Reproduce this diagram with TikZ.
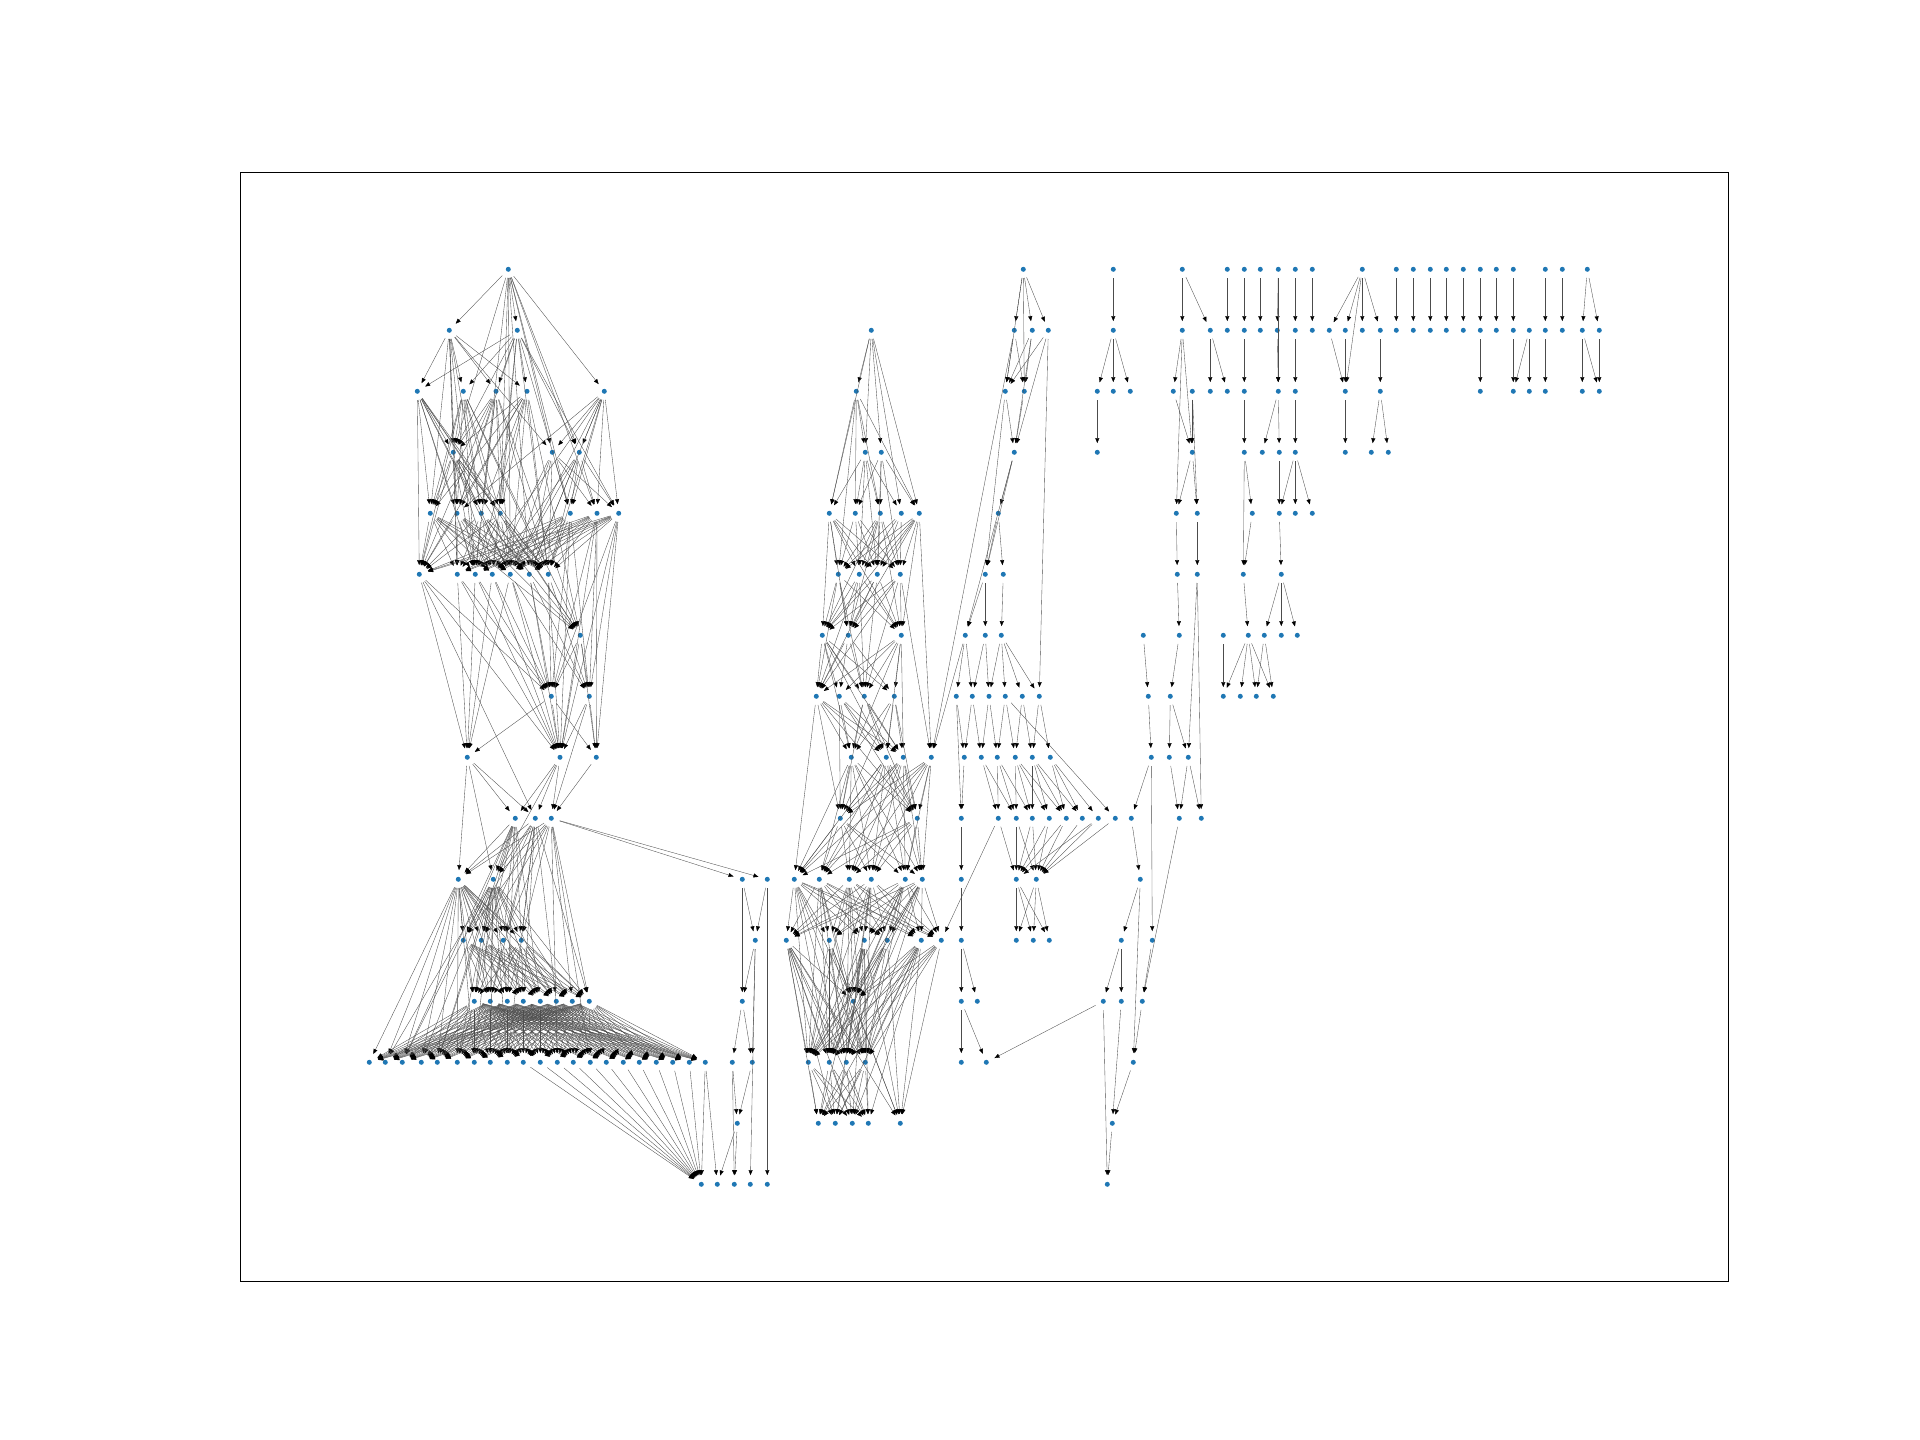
\documentclass[tikz,border=0pt]{standalone}
\usepackage{tikz}
\usetikzlibrary{arrows.meta}
\definecolor{nodeblue}{HTML}{1F77B4}

\begin{document}
\begin{tikzpicture}[x=1pt, y=-1pt,
    dot/.style={circle, fill=nodeblue, inner sep=0pt, minimum size=5pt},
    link/.style={draw=black!70, line width=0.35pt, shorten <=6pt, shorten >=6.5pt,
        -{Triangle[length=5pt, width=4pt, color=black]}}]
    \useasboundingbox (0,0) rectangle (1920,1440);
    \draw[line width=0.8pt] (240,172.8) rectangle (1728,1281.6);

    % Nodes, one row per layer
    \foreach \x [count=\i] in {508.3, 1023.3, 1113.3, 1182.3, 1227.3, 1244.3, 1260.3, 1278.3, 1295.3, 1312.3, 1362.3, 1396.3, 1413.3, 1430.3, 1446.3, 1463.3, 1480.3, 1496.3, 1513.3, 1545.3, 1562.3, 1587.3}
        \node[dot] (L0-\i) at (\x,269.3) {};
    \foreach \x [count=\i] in {449.3, 517.3, 871.3, 1014.3, 1032.3, 1048.3, 1113.3, 1182.3, 1210.3, 1227.3, 1244.3, 1260.3, 1277.3, 1295.3, 1312.3, 1329.3, 1345.3, 1362.3, 1380.3, 1396.3, 1413.3, 1430.3, 1446.3, 1463.3, 1480.3, 1496.3, 1513.3, 1529.3, 1545.3, 1562.3, 1582.3, 1599.3}
        \node[dot] (L1-\i) at (\x,330.3) {};
    \foreach \x [count=\i] in {417.3, 463.3, 496, 527, 604.3, 856.3, 1005.3, 1024.3, 1097.3, 1113.3, 1130.3, 1173.3, 1192.3, 1210.3, 1227.3, 1244.3, 1278.3, 1295.3, 1345.3, 1380.3, 1480.3, 1513.3, 1529.3, 1545.3, 1582.3, 1599.3}
        \node[dot] (L2-\i) at (\x,391.3) {};
    \foreach \x [count=\i] in {453.3, 552.3, 579.3, 865.3, 881.3, 1014.3, 1097.3, 1192.3, 1244.3, 1262.3, 1279.3, 1295.3, 1345.3, 1371.3, 1388.3}
        \node[dot] (L3-\i) at (\x,452.3) {};
    \foreach \x [count=\i] in {430.3, 457, 481.3, 500.3, 570.3, 597, 618.7, 829.3, 855.3, 880.3, 901.3, 919.3, 998.3, 1176.3, 1197.3, 1252.3, 1279.3, 1295.3, 1312.3}
        \node[dot] (L4-\i) at (\x,513.3) {};
    \foreach \x [count=\i] in {419.3, 457.3, 475.3, 492.3, 510.3, 529.3, 548.3, 838.3, 859.3, 877.3, 900.3, 985.3, 1003.3, 1177.3, 1197.3, 1243.3, 1281.3}
        \node[dot] (L5-\i) at (\x,574.3) {};
    \foreach \x [count=\i] in {580.3, 822.3, 848.3, 901.3, 965.3, 985.3, 1001.3, 1143.3, 1179.3, 1223.3, 1248.3, 1264.3, 1281.3, 1297.3}
        \node[dot] (L6-\i) at (\x,635.3) {};
    \foreach \x [count=\i] in {551.3, 589.3, 816.3, 839.3, 864.3, 894.3, 956.3, 972.3, 989, 1005.3, 1022.3, 1039.3, 1148.3, 1170.3, 1223.3, 1240.3, 1256.3, 1273.3}
        \node[dot] (L7-\i) at (\x,696.3) {};
    \foreach \x [count=\i] in {467.3, 560, 596.3, 851.3, 886.3, 903.3, 931.3, 964.3, 981.3, 997.3, 1015.3, 1032.3, 1050.3, 1151.3, 1169.3, 1188.3}
        \node[dot] (L8-\i) at (\x,757.3) {};
    \foreach \x [count=\i] in {515.3, 535.3, 551.3, 840.3, 917.3, 961.3, 998.3, 1016.3, 1032.3, 1049.3, 1066.3, 1082.3, 1098.3, 1115.3, 1131.3, 1179.3, 1201.3}
        \node[dot] (L9-\i) at (\x,818.3) {};
    \foreach \x [count=\i] in {458.3, 493.3, 742.3, 767.3, 794.3, 819.3, 849.3, 871.3, 905.3, 922.3, 961.3, 1016.3, 1036.3, 1140.3}
        \node[dot] (L10-\i) at (\x,879.3) {};
    \foreach \x [count=\i] in {463.3, 481.3, 503.3, 521.3, 755.3, 786.3, 829.3, 864.3, 887.3, 921.3, 941.3, 961.3, 1016.3, 1033.3, 1049.3, 1121.3, 1152.3}
        \node[dot] (L11-\i) at (\x,940.3) {};
    \foreach \x [count=\i] in {474.3, 490.3, 507.3, 523.3, 540.3, 556.3, 572.3, 589.3, 742.3, 853.3, 961.3, 977.3, 1103.3, 1121.3, 1142.3}
        \node[dot] (L12-\i) at (\x,1001.3) {};
    \foreach \x [count=\i] in {369.3, 385.3, 402.3, 421.3, 437.3, 457.3, 474.3, 490.3, 507.3, 523.3, 540.3, 557.3, 573.3, 590.3, 606.3, 623.3, 639.3, 656.3, 672.7, 689.3, 705.3, 732.3, 752.3, 808.3, 829.3, 846.3, 865.3, 961.3, 986.3, 1133.3}
        \node[dot] (L13-\i) at (\x,1062.3) {};
    \foreach \x [count=\i] in {737.3, 818.3, 835.3, 852.3, 868.3, 900.3, 1112.3}
        \node[dot] (L14-\i) at (\x,1123.3) {};
    \foreach \x [count=\i] in {701.3, 717.3, 734.3, 750.3, 767.3, 1107.3}
        \node[dot] (L15-\i) at (\x,1184.3) {};

    % Left block, upper part
    \foreach \a/\b in {0-1/1-1, 0-1/1-2, 0-1/2-5, 0-1/3-1, 0-1/3-2, 0-1/3-3, 0-1/4-3, 0-1/4-4, 0-1/4-5, 0-1/4-6, 0-1/5-5, 0-1/5-6,
            1-1/2-1, 1-1/2-2, 1-1/2-3, 1-1/2-4, 1-1/3-1, 1-1/3-2, 1-1/4-1, 1-1/4-2, 1-1/4-3, 1-1/5-2, 1-1/5-3,
            1-2/2-1, 1-2/2-2, 1-2/2-3, 1-2/2-4, 1-2/3-1, 1-2/3-3, 1-2/4-2, 1-2/4-4, 1-2/4-5, 1-2/4-7, 1-2/5-4, 1-2/5-7,
            2-5/3-2, 2-5/3-3, 2-5/4-2, 2-5/4-5, 2-5/4-6, 2-5/4-7, 2-5/5-3, 2-5/5-5, 2-5/5-6, 2-5/5-7,
            6-1/7-1, 6-1/7-2, 6-1/8-2, 6-1/8-3,
            7-1/8-1, 7-1/8-2, 7-1/8-3, 7-2/8-2, 7-2/8-3, 7-2/9-3,
            8-1/9-1, 8-1/9-2, 8-1/10-1, 8-1/10-2, 8-2/9-1, 8-2/9-2, 8-2/9-3, 8-2/10-2, 8-3/9-3,
            4-6/8-3, 4-7/8-3, 5-1/9-2, 5-1/8-1, 5-2/8-1, 9-3/10-3, 9-3/10-4}
        \draw[link] (L\a) -- (L\b);
    \foreach \s in {1,...,4} {
        \draw[link] (L2-\s) -- (L3-1);
        \draw[link] (L2-\s) -- (L6-1);
        \foreach \t in {1,...,4} \draw[link] (L2-\s) -- (L4-\t);
        \foreach \t in {1,3,5,7} \draw[link] (L2-\s) -- (L5-\t);
    }
    \foreach \t in {1,...,4} \draw[link] (L3-1) -- (L4-\t);
    \foreach \t in {1,...,7} \draw[link] (L3-1) -- (L5-\t);
    \foreach \s in {2,3} {
        \foreach \t in {5,6,7} \draw[link] (L3-\s) -- (L4-\t);
        \foreach \t in {4,...,7} \draw[link] (L3-\s) -- (L5-\t);
    }
    \foreach \s in {1,...,7} \foreach \t in {1,...,7} \draw[link] (L4-\s) -- (L5-\t);
    \foreach \s in {1,...,4} \draw[link] (L4-\s) -- (L6-1);
    \foreach \s in {5,6,7} {
        \draw[link] (L4-\s) -- (L7-1);
        \draw[link] (L4-\s) -- (L7-2);
        \draw[link] (L4-\s) -- (L8-2);
    }
    \foreach \s in {1,...,7} {
        \draw[link] (L5-\s) -- (L7-1);
        \draw[link] (L5-\s) -- (L8-2);
    }
    \foreach \s in {3,4,5} \draw[link] (L5-\s) -- (L8-1);
    \foreach \s in {5,6,7} \draw[link] (L5-\s) -- (L7-2);

    % Left block, lower part
    \foreach \s in {1,2,3} {
        \foreach \t in {1,2} \draw[link] (L9-\s) -- (L10-\t);
        \foreach \t in {1,...,4} \draw[link] (L9-\s) -- (L11-\t);
    }
    \foreach \a/\b in {9-1/12-1, 9-1/12-3, 9-1/12-5, 9-2/12-2, 9-2/12-4, 9-2/12-6, 9-2/12-8, 9-3/12-7, 9-3/12-8,
            9-1/13-3, 9-1/13-5, 9-2/13-9, 9-3/13-12, 9-3/13-14}
        \draw[link] (L\a) -- (L\b);
    \foreach \s in {1,2} {
        \foreach \t in {1,...,4} \draw[link] (L10-\s) -- (L11-\t);
        \foreach \t in {1,...,8} \draw[link] (L10-\s) -- (L12-\t);
    }
    \foreach \t in {1,...,7} \draw[link] (L10-1) -- (L13-\t);
    \foreach \t in {2,...,9} \draw[link] (L10-2) -- (L13-\t);
    \foreach \s in {1,...,4} \foreach \t in {1,...,8} \draw[link] (L11-\s) -- (L12-\t);
    \foreach \s in {1,...,8} \foreach \t in {1,...,21} \draw[link] (L12-\s) -- (L13-\t);
    \foreach \s in {10,...,21} \draw[link] (L13-\s) -- (L15-1);

    % Narrow column between the blocks
    \foreach \a/\b in {10-3/11-5, 10-4/11-5, 10-3/12-9, 10-4/15-5, 11-5/12-9, 11-5/13-23, 11-5/15-4,
            12-9/13-22, 12-9/13-23, 13-22/14-1, 13-23/14-1, 13-22/15-3, 14-1/15-2, 14-1/15-3, 13-21/15-2}
        \draw[link] (L\a) -- (L\b);

    % Middle block
    \foreach \a/\b in {1-3/2-6, 1-3/3-4, 1-3/3-5, 1-3/4-8, 1-3/4-11, 1-3/4-12,
            2-6/3-4, 2-6/4-8, 2-6/4-9, 2-6/4-10, 2-6/4-12, 2-6/5-8,
            3-4/4-8, 3-4/4-9, 3-4/4-10, 3-4/4-11, 3-4/5-9, 3-4/5-10,
            3-5/4-9, 3-5/4-10, 3-5/4-12, 3-5/5-10, 3-5/5-11,
            4-12/8-7, 5-11/8-7, 6-5/8-7, 7-3/10-5, 12-10/14-6, 1-4/8-7}
        \draw[link] (L\a) -- (L\b);
    \foreach \s in {8,...,12} \foreach \t in {8,...,11} \draw[link] (L4-\s) -- (L5-\t);
    \foreach \s in {8,10,12} \foreach \t in {2,3,4} \draw[link] (L4-\s) -- (L6-\t);
    \foreach \s in {8,...,11} {
        \foreach \t in {2,3,4} \draw[link] (L5-\s) -- (L6-\t);
        \foreach \t in {3,5} \draw[link] (L5-\s) -- (L7-\t);
    }
    \foreach \s in {2,3,4} \foreach \t in {3,...,6} \draw[link] (L6-\s) -- (L7-\t);
    \foreach \s in {2,4} \foreach \t in {4,5,6} \draw[link] (L6-\s) -- (L8-\t);
    \foreach \s in {3,...,6} {
        \foreach \t in {4,5,6} \draw[link] (L7-\s) -- (L8-\t);
        \foreach \t in {4,5} \draw[link] (L7-\s) -- (L9-\t);
    }
    \foreach \s in {4,...,7} {
        \foreach \t in {4,5} \draw[link] (L8-\s) -- (L9-\t);
        \foreach \t in {5,...,10} \draw[link] (L8-\s) -- (L10-\t);
    }
    \foreach \s in {4,5} \foreach \t in {5,...,10} \draw[link] (L9-\s) -- (L10-\t);
    \foreach \s in {5,...,10} {
        \foreach \t in {6,...,11} \draw[link] (L10-\s) -- (L11-\t);
        \draw[link] (L10-\s) -- (L12-10);
        \foreach \t in {24,...,27} \draw[link] (L10-\s) -- (L13-\t);
    }
    \foreach \s in {6,...,11} {
        \draw[link] (L11-\s) -- (L12-10);
        \draw[link] (L11-\s) -- (L14-6);
        \foreach \t in {24,...,27} \draw[link] (L11-\s) -- (L13-\t);
    }
    \foreach \s in {6,8,10} \foreach \t in {2,...,5} \draw[link] (L11-\s) -- (L14-\t);
    \foreach \t in {24,...,27} \draw[link] (L12-10) -- (L13-\t);
    \foreach \s in {24,...,27} \foreach \t in {2,...,5} \draw[link] (L13-\s) -- (L14-\t);

    % Right part, top rows
    \foreach \a/\b in {0-2/1-4, 0-2/1-5, 0-2/1-6, 0-2/2-7, 0-2/2-8,
            0-3/1-7, 0-4/1-8, 0-4/1-9, 0-5/1-10, 0-6/1-11, 0-7/1-12, 0-8/1-13, 0-8/2-17, 0-9/1-14, 0-10/1-15,
            0-11/1-16, 0-11/1-17, 0-11/1-18, 0-11/1-19, 0-11/2-19,
            0-12/1-20, 0-13/1-21, 0-14/1-22, 0-15/1-23, 0-16/1-24, 0-17/1-25, 0-18/1-26, 0-19/1-27,
            0-20/1-29, 0-21/1-30, 0-22/1-31, 0-22/1-32,
            1-4/2-7, 1-4/2-8, 1-5/2-7, 1-5/2-8, 1-5/3-6, 1-6/2-7, 1-6/3-6, 1-6/7-12,
            1-7/2-9, 1-7/2-10, 1-7/2-11, 1-8/2-12, 1-8/3-8, 1-8/4-14,
            1-9/2-14, 1-9/2-15, 1-11/2-16, 1-13/2-17, 1-14/2-18,
            1-16/2-19, 1-17/2-19, 1-19/2-20, 1-25/2-21, 1-27/2-22, 1-28/2-22, 1-28/2-23, 1-29/2-24,
            1-31/2-25, 1-31/2-26, 1-32/2-26,
            2-7/3-6, 2-8/3-6, 2-9/3-7, 2-12/3-8, 2-13/3-8, 2-13/4-15, 2-16/3-9,
            2-17/3-10, 2-17/3-11, 2-18/3-12, 2-19/3-13, 2-20/3-14, 2-20/3-15,
            3-6/4-13, 3-6/5-12, 3-6/6-5, 2-7/5-12, 3-8/4-14, 3-8/4-15, 3-9/4-16, 3-9/5-16,
            3-11/4-17, 3-12/4-17, 3-12/4-18, 3-12/4-19}
        \draw[link] (L\a) -- (L\b);

    % Right part, lower rows
    \foreach \a/\b in {4-13/5-12, 4-13/5-13, 4-14/5-14, 4-15/5-15, 4-16/5-16, 4-17/5-17,
            5-16/6-11, 5-17/6-12, 5-17/6-13, 5-17/6-14, 5-14/6-9, 5-15/8-16, 5-15/9-17,
            6-10/7-15, 6-11/7-15, 6-11/7-16, 6-11/7-17, 6-11/7-18, 6-12/7-17, 6-12/7-18,
            6-8/7-13, 6-9/7-14, 7-13/8-14, 7-14/8-15, 7-14/8-16,
            8-14/9-15, 8-15/9-16, 8-16/9-16, 8-16/9-17, 8-14/11-17,
            9-15/10-14, 10-14/11-16, 11-16/12-13, 11-16/12-14, 11-17/12-15, 9-16/12-15,
            10-14/13-30, 12-15/13-30, 12-14/14-7, 13-30/14-7, 12-13/15-6, 14-7/15-6, 12-13/13-29,
            5-12/6-5, 5-12/6-6, 5-13/6-7,
            6-5/7-7, 6-5/7-8, 6-6/7-8, 6-6/7-9, 6-7/7-9, 6-7/7-10, 6-7/7-11, 6-7/7-12,
            7-7/8-8, 7-7/9-6, 7-8/8-8, 7-8/8-9, 7-9/8-9, 7-9/8-10, 7-10/8-10, 7-10/8-11, 7-10/9-14,
            7-11/8-11, 7-11/8-12, 7-12/8-12, 7-12/8-13,
            8-8/9-6, 8-9/9-7, 8-9/9-8, 8-10/9-7, 8-10/9-8, 8-10/9-9, 8-11/9-8, 8-11/9-9, 8-11/9-10, 8-11/9-11,
            8-12/9-9, 8-12/9-10, 8-12/9-11, 8-12/9-12, 8-13/9-11, 8-13/9-12, 8-13/9-13,
            9-7/10-12, 9-8/10-12, 9-8/10-13, 9-9/10-12, 9-9/10-13, 9-10/10-12, 9-10/10-13,
            9-11/10-12, 9-11/10-13, 9-12/10-13, 9-13/10-12, 9-13/10-13, 9-14/10-13,
            10-12/11-13, 10-12/11-14, 10-12/11-15, 10-13/11-13, 10-13/11-14, 10-13/11-15,
            9-6/10-11, 10-11/11-12, 11-12/12-11, 11-12/12-12, 12-11/13-28, 12-11/13-29, 9-7/11-11}
        \draw[link] (L\a) -- (L\b);
\end{tikzpicture}
\end{document}
